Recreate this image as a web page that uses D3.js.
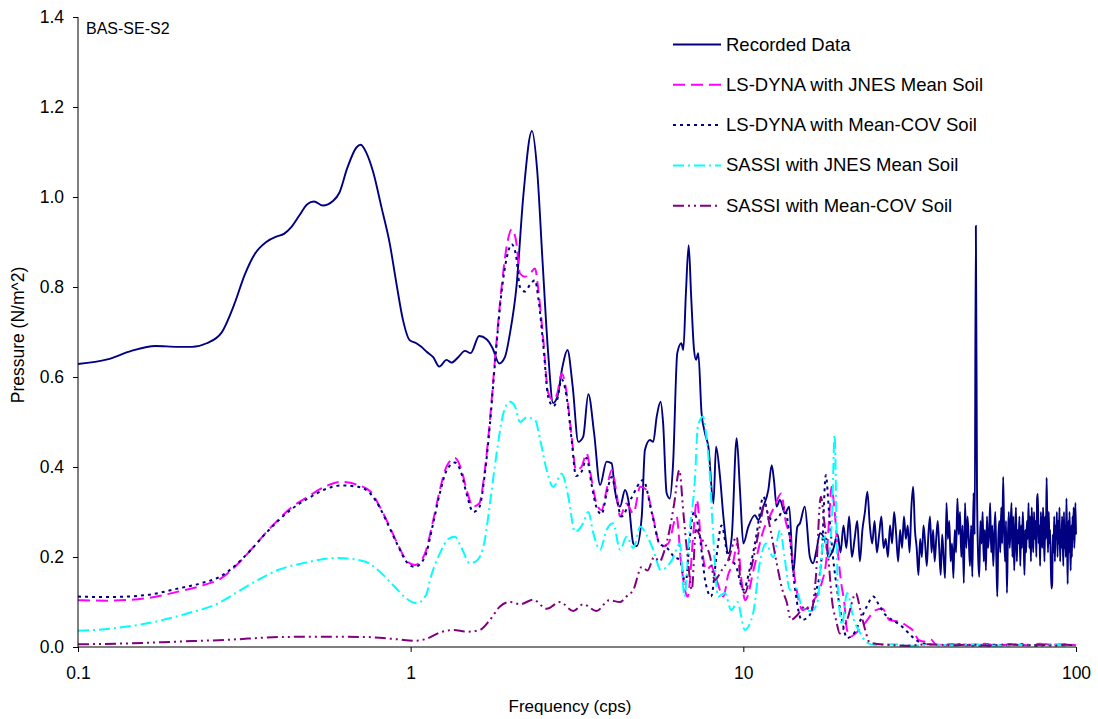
<!DOCTYPE html>
<html><head><meta charset="utf-8">
<script src="https://cdn.jsdelivr.net/npm/d3@7"></script>
<style>body{margin:0;background:#fff}svg{display:block;font-family:Arial,"Liberation Sans",sans-serif}</style>
</head><body><svg id="chart" width="1098" height="719"></svg>
<script>
// ---------- DATA ----------
const yTicks = [0, 0.2, 0.4, 0.6, 0.8, 1.0, 1.2, 1.4];
const xTicks = [0.1, 1, 10, 100];
const xTickLabels = ["0.1", "1", "10", "100"];
const seriesNames = ["Recorded Data", "LS-DYNA with JNES Mean Soil", "LS-DYNA with Mean-COV Soil", "SASSI with JNES Mean Soil", "SASSI with Mean-COV Soil"];

// Recorded data, low/mid band (Hz, N/m^2)
const recordedFreq = [0.1,0.1225,0.1447,0.1708,0.1998,0.2201,0.2437,0.2697,0.2958,0.317,0.3397,0.368,0.3945,0.416,0.4377,0.4637,0.4889,0.512,0.5447,0.584,0.611,0.6446,0.687,0.708,0.736,0.771,0.8165,0.865,0.906,0.948,0.993,1.04,1.077,1.117,1.169,1.219,1.282,1.327,1.39,1.456,1.514,1.607,1.691,1.763,1.846,1.92,1.988,2.08,2.18,2.315,2.40,2.49,2.59,2.68,2.76,2.86,2.96,3.07,3.19,3.30,3.42,3.56,3.71,3.88,4.02,4.11,4.26,4.41,4.51,4.67,4.78,4.95,5.06,5.24,5.36,5.49,5.64,5.74,5.88,6.01,6.15,6.33,6.51,6.60,6.72,6.85,6.97,7.11,7.21,7.32,7.49,7.67,7.85,8.13,8.28,8.51,8.71,9.02,9.23,9.55,9.77,10.0,10.35,10.84,11.09,11.48,11.89,12.17,12.36,12.59,12.88,13.34,13.74,14.13,14.53,14.8,15.3,15.85,16.2,16.6,17.0,17.7,18.0,18.6];
const recordedValue = [0.629,0.639,0.658,0.669,0.667,0.667,0.675,0.698,0.764,0.827,0.873,0.900,0.912,0.918,0.933,0.960,0.984,0.990,0.981,0.991,1.010,1.064,1.110,1.116,1.098,1.056,0.978,0.897,0.808,0.727,0.682,0.675,0.667,0.656,0.644,0.623,0.638,0.632,0.644,0.658,0.653,0.691,0.684,0.664,0.630,0.644,0.697,0.801,1.001,1.147,1.06,0.86,0.653,0.542,0.556,0.623,0.660,0.578,0.456,0.467,0.562,0.475,0.360,0.412,0.408,0.349,0.312,0.349,0.327,0.230,0.224,0.290,0.438,0.460,0.456,0.512,0.545,0.497,0.342,0.330,0.408,0.653,0.675,0.660,0.786,0.893,0.778,0.660,0.638,0.653,0.519,0.475,0.445,0.319,0.445,0.378,0.290,0.208,0.245,0.464,0.349,0.230,0.267,0.293,0.282,0.312,0.349,0.404,0.371,0.312,0.327,0.297,0.312,0.164,0.267,0.275,0.312,0.200,0.186,0.216,0.253,0.230,0.200,0.216];
// Recorded data, high band: regular sampling from 19.2 Hz every 0.4 Hz
const recordedHiStartHz = 19.2;
const recordedHiStepHz = 0.4;
const recordedHiValue = [
0.25,0.21,0.27,0.22,0.29,0.20,0.24,0.28,0.19,0.26,
0.30,0.345,0.27,0.23,0.28,0.21,0.25,0.29,0.22,0.24,
0.20,0.27,0.23,0.30,0.25,0.19,0.26,0.22,0.29,0.24,
0.27,0.21,0.31,0.356,0.26,0.22,0.16,0.24,0.20,0.27,
0.23,0.18,0.25,0.29,0.21,0.26,0.19,0.24,0.28,0.22,
0.16,0.25,0.20,0.153,0.32,0.24,0.28,0.19,0.23,0.153,
0.26,0.21,0.33,0.25,0.30,0.20,0.27,0.142,0.32,0.22,
0.29,0.24,0.18,0.27,0.156,0.342,0.25,0.936,0.35,0.20,
0.156,0.28,0.23,0.30,0.19,0.26,0.17,0.29,0.22,0.25,
0.32,0.21,0.27,0.18,0.25,0.30,0.20,0.112,0.24,0.28,
0.21,0.31,0.23,0.378,0.26,0.19,0.28,0.12,0.24,0.30,
0.22,0.27,0.32,0.20,0.29,0.17,0.25,0.31,0.19,0.26,
0.23,0.29,0.18,0.27,0.22,0.30,0.24,0.16,0.26,0.21,
0.28,0.24,0.32,0.22,0.29,0.19,0.31,0.25,0.21,0.30,
0.24,0.28,0.20,0.33,0.34,0.23,0.27,0.18,0.30,0.25,
0.22,0.31,0.26,0.19,0.29,0.24,0.376,0.27,0.21,0.30,
0.23,0.26,0.18,0.13,0.14,0.25,0.21,0.29,0.19,0.27,
0.24,0.30,0.20,0.28,0.23,0.31,0.19,0.26,0.22,0.29,
0.25,0.18,0.30,0.22,0.27,0.20,0.33,0.24,0.14,0.28,
0.21,0.30,0.23,0.17,0.27,0.20,0.29,0.24,0.31,0.22,
0.26,0.32,0.25];

// LS-DYNA with JNES Mean Soil
const dynaMeanFreq = [0.1,0.123,0.1586,0.2,0.2348,0.2697,0.2958,0.332,0.364,0.399,0.4377,0.491,0.5515,0.618,0.694,0.7585,0.807,0.855,0.916,0.97,1.028,1.1,1.169,1.224,1.282,1.358,1.422,1.473,1.542,1.607,1.671,1.731,1.792,1.877,1.951,2.012,2.073,2.131,2.206,2.284,2.365,2.42,2.505,2.592,2.683,2.759,2.844,2.944,3.048,3.14,3.265,3.38,3.5,3.62,3.75,3.88,4.02,4.16,4.26,4.45,4.67,4.9,5.1,5.35,5.65,5.95,6.3,6.5,6.8,7.09,7.25,7.45,7.74,8.0,8.3,8.71,9.0,9.3,9.6,9.9,10.13,10.8,11.5,12.0,12.4,13.0,13.4,13.8,14.3,15.1,16.0,17.2,17.8,18.2,18.4,18.8,19.3,19.7,20.1,20.5,21.0,21.8,23.2,25.0,26.2,27.5,29.5,31.3,32.5,33.6,35.0,36.6,38,42,47,53,58,64,71,78,85,92,100];
const dynaMeanValue = [0.104,0.103,0.108,0.123,0.136,0.153,0.178,0.217,0.251,0.282,0.310,0.334,0.356,0.367,0.360,0.345,0.312,0.275,0.227,0.193,0.182,0.205,0.282,0.349,0.401,0.420,0.393,0.349,0.312,0.319,0.393,0.504,0.638,0.801,0.897,0.928,0.904,0.830,0.823,0.830,0.841,0.793,0.682,0.564,0.549,0.564,0.608,0.564,0.467,0.393,0.401,0.430,0.371,0.319,0.304,0.349,0.393,0.341,0.290,0.319,0.297,0.356,0.350,0.290,0.223,0.230,0.290,0.186,0.112,0.260,0.327,0.240,0.171,0.180,0.150,0.112,0.160,0.186,0.230,0.141,0.104,0.180,0.260,0.290,0.312,0.341,0.280,0.245,0.149,0.082,0.097,0.142,0.200,0.312,0.356,0.304,0.200,0.141,0.100,0.038,0.023,0.031,0.053,0.082,0.085,0.060,0.056,0.045,0.035,0.016,0.012,0.017,0.005,0.006,0.004,0.007,0.003,0.006,0.004,0.007,0.005,0.006,0.004];

// LS-DYNA with Mean-COV Soil
const dynaCovFreq = [0.1,0.123,0.1586,0.2,0.2348,0.2697,0.2958,0.332,0.364,0.399,0.4377,0.491,0.5515,0.618,0.694,0.7585,0.807,0.855,0.916,0.97,1.028,1.1,1.169,1.224,1.282,1.358,1.422,1.473,1.542,1.607,1.671,1.731,1.792,1.877,1.951,2.012,2.073,2.131,2.206,2.284,2.365,2.42,2.505,2.592,2.683,2.759,2.844,2.944,3.048,3.14,3.265,3.38,3.5,3.62,3.75,3.88,4.02,4.16,4.3,4.6,5.0,5.3,5.6,5.9,6.2,6.45,6.7,6.9,7.1,7.35,7.7,8.0,8.3,8.6,9.0,9.5,10.0,10.5,10.9,11.5,11.8,12.3,12.8,13.3,13.8,14.3,15.0,15.8,16.5,17.2,17.7,18.1,18.6,19.2,19.8,20.5,21.5,22.5,23.5,24.6,25.5,26.5,28,29.5,31,32.5,34,36,40,45,50,56,62,69,76,84,92,100];
const dynaCovValue = [0.112,0.111,0.115,0.130,0.142,0.158,0.180,0.217,0.250,0.280,0.306,0.330,0.350,0.359,0.356,0.340,0.310,0.272,0.225,0.190,0.178,0.198,0.275,0.342,0.392,0.410,0.385,0.340,0.300,0.310,0.385,0.495,0.630,0.790,0.870,0.895,0.870,0.800,0.790,0.805,0.815,0.775,0.670,0.555,0.535,0.550,0.595,0.555,0.460,0.380,0.390,0.420,0.360,0.310,0.295,0.340,0.378,0.330,0.290,0.330,0.371,0.300,0.230,0.220,0.200,0.193,0.140,0.240,0.300,0.260,0.143,0.112,0.200,0.270,0.200,0.180,0.127,0.180,0.240,0.334,0.300,0.280,0.290,0.310,0.240,0.130,0.060,0.070,0.120,0.200,0.382,0.300,0.200,0.120,0.060,0.020,0.030,0.060,0.090,0.112,0.095,0.075,0.060,0.050,0.035,0.020,0.010,0.006,0.004,0.006,0.003,0.005,0.004,0.006,0.003,0.005,0.004,0.005];

// SASSI with JNES Mean Soil
const sassiMeanFreq = [0.1,0.126,0.17,0.214,0.2635,0.3027,0.3476,0.399,0.48,0.604,0.728,0.797,0.895,0.97,1.04,1.114,1.143,1.224,1.297,1.358,1.422,1.507,1.585,1.671,1.731,1.813,1.899,1.988,2.057,2.131,2.232,2.365,2.448,2.564,2.683,2.844,2.978,3.118,3.3,3.42,3.54,3.71,3.88,4.06,4.26,4.46,4.67,4.9,5.15,5.36,5.65,6.1,6.45,6.65,6.9,7.15,7.3,7.57,7.7,7.95,8.1,8.4,8.8,9.2,9.6,10.1,10.7,11.2,11.7,12.3,12.9,13.3,13.8,14.4,15.0,16.0,16.7,17.5,18.0,18.5,18.8,19.2,19.8,20.5,21.5,22.5,23.5,25,28,32,37,43,50,57,65,73,82,91,100];
const sassiMeanValue = [0.036,0.041,0.056,0.075,0.097,0.123,0.149,0.171,0.187,0.198,0.190,0.171,0.134,0.108,0.097,0.116,0.149,0.208,0.240,0.245,0.220,0.186,0.193,0.238,0.319,0.430,0.519,0.545,0.535,0.500,0.510,0.505,0.462,0.393,0.356,0.385,0.334,0.256,0.275,0.300,0.253,0.216,0.260,0.275,0.216,0.245,0.220,0.267,0.245,0.216,0.171,0.193,0.230,0.112,0.260,0.371,0.490,0.512,0.482,0.371,0.260,0.112,0.120,0.082,0.100,0.038,0.075,0.186,0.230,0.200,0.260,0.200,0.127,0.130,0.090,0.080,0.100,0.250,0.200,0.300,0.471,0.150,0.050,0.120,0.060,0.030,0.010,0.004,0.006,0.003,0.005,0.004,0.006,0.003,0.005,0.004,0.006,0.004,0.005];

// SASSI with Mean-COV Soil
const sassiCovFreq = [0.1,0.1413,0.2,0.282,0.399,0.564,0.745,0.916,1.028,1.114,1.224,1.343,1.473,1.615,1.731,1.855,1.988,2.131,2.337,2.564,2.811,3.083,3.3,3.62,3.95,4.26,4.45,4.67,4.95,5.15,5.4,5.6,5.8,6.0,6.2,6.42,6.6,6.8,7.0,7.2,7.5,7.95,8.2,8.6,9.0,9.55,9.8,10.1,10.6,11.2,11.6,12.0,12.6,13.1,13.5,13.9,14.5,15.3,16.0,16.5,17.1,17.5,18.0,18.5,19.0,19.5,20.5,21.8,22.5,23.2,24.0,27,31,36,42,48,55,62,70,78,86,93,100];
const sassiCovValue = [0.006,0.008,0.012,0.016,0.022,0.023,0.022,0.017,0.014,0.018,0.032,0.038,0.034,0.038,0.060,0.090,0.100,0.095,0.105,0.085,0.100,0.080,0.095,0.080,0.104,0.100,0.112,0.127,0.178,0.170,0.200,0.190,0.216,0.260,0.320,0.393,0.300,0.200,0.127,0.260,0.240,0.200,0.149,0.170,0.193,0.245,0.149,0.120,0.180,0.267,0.319,0.270,0.186,0.127,0.100,0.060,0.070,0.090,0.080,0.150,0.334,0.280,0.200,0.100,0.060,0.030,0.060,0.119,0.080,0.040,0.010,0.005,0.003,0.006,0.004,0.005,0.003,0.006,0.004,0.005,0.003,0.005,0.004];

// ---------- CHART ----------
const svg = d3.select("#chart");
const L = 78, R = 1076, T = 17, B = 647;
const FONT = "Arial, 'Liberation Sans', sans-serif";
const x = d3.scaleLog().domain([0.1, 100]).range([L, R]);
const y = d3.scaleLinear().domain([0, 1.4]).range([B, T]);

const zip = (fs, vs) => fs.map((f, i) => [f, vs[i]]);
const recordedPts = zip(recordedFreq, recordedValue).concat(
  recordedHiValue.map((v, i) => [recordedHiStartHz + i * recordedHiStepHz, v]));

const series = [
  {name: seriesNames[0], pts: recordedPts, color: "#000080", dash: null, w: 1.9},
  {name: seriesNames[1], pts: zip(dynaMeanFreq, dynaMeanValue), color: "#FF00FF", dash: "12,6", w: 2},
  {name: seriesNames[2], pts: zip(dynaCovFreq, dynaCovValue), color: "#000080", dash: "3,4", w: 2},
  {name: seriesNames[3], pts: zip(sassiMeanFreq, sassiMeanValue), color: "#00FFFF", dash: "11,4,2,4", w: 2},
  {name: seriesNames[4], pts: zip(sassiCovFreq, sassiCovValue), color: "#800080", dash: "11,4,2,4,2,4", w: 2}
];

svg.append("defs").append("clipPath").attr("id", "clip")
  .append("rect").attr("x", L).attr("y", T - 2).attr("width", R - L + 1).attr("height", B - T + 2);

const line = d3.line().x(d => x(d[0])).y(d => y(d[1])).curve(d3.curveMonotoneX);
const g = svg.append("g").attr("clip-path", "url(#clip)");
series.forEach(s => {
  g.append("path").datum(s.pts).attr("d", line)
    .attr("fill", "none").attr("stroke", s.color).attr("stroke-width", s.w)
    .attr("stroke-dasharray", s.dash).attr("stroke-linejoin", "round");
});

// axes
const yAxis = d3.axisLeft(y).tickValues(yTicks).tickFormat(d3.format(".1f")).tickSizeOuter(0).tickSize(5).tickPadding(9);
const ya = svg.append("g").attr("transform", `translate(${L},0)`).call(yAxis);
ya.selectAll("text").attr("font-size", 17.5).attr("fill", "#000").attr("font-family", FONT);
ya.select(".domain").attr("stroke", "#000").attr("d", `M0,${B}V${T}`);

const xAxis = d3.axisBottom(x).tickValues(xTicks).tickFormat((d, i) => xTickLabels[i]).tickSizeOuter(0).tickSize(5).tickPadding(15);
const xa = svg.append("g").attr("transform", `translate(0,${B})`).call(xAxis);
xa.selectAll("text").attr("font-size", 17.5).attr("fill", "#000").attr("font-family", FONT);
xa.select(".domain").attr("stroke", "#000").attr("d", `M${L},0H${R}`);
svg.selectAll(".tick line").attr("stroke", "#000");

// titles
svg.append("text").attr("x", 570).attr("y", 712).attr("text-anchor", "middle")
  .attr("font-size", 17).text("Frequency (cps)");
svg.append("text").attr("transform", `translate(24,${(T + B) / 2 + 3}) rotate(-90)`).attr("text-anchor", "middle")
  .attr("font-size", 17.5).text("Pressure (N/m^2)");
svg.append("text").attr("x", 86).attr("y", 34).attr("font-size", 16).text("BAS-SE-S2");

// legend
const leg = svg.append("g");
series.forEach((s, i) => {
  const yy = 44.5 + i * 40.3;
  leg.append("line").attr("x1", 673).attr("x2", 721).attr("y1", yy).attr("y2", yy)
    .attr("stroke", s.color).attr("stroke-width", 2).attr("stroke-dasharray", s.dash);
  leg.append("text").attr("x", 726).attr("y", yy + 6).attr("font-size", 18.5).text(s.name);
});
</script></body></html>
